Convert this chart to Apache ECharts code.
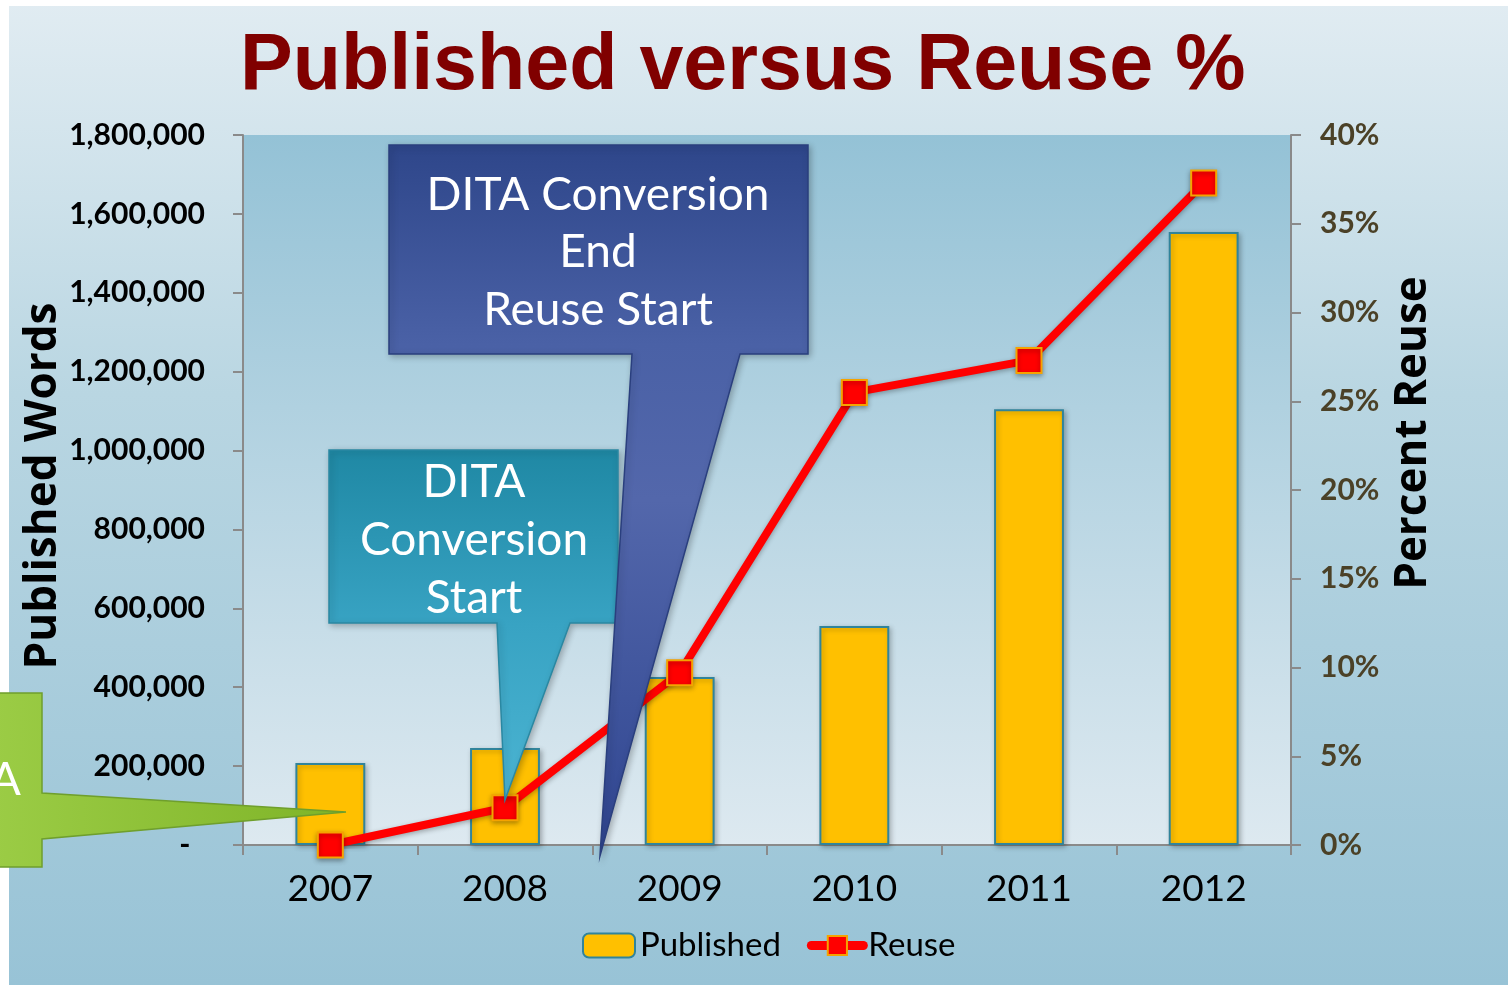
<!DOCTYPE html>
<html>
<head>
<meta charset="utf-8">
<script src="https://cdn.jsdelivr.net/npm/echarts@6/dist/echarts.min.js"></script>
<style>
html,body{margin:0;padding:0;background:#fff;}
#chart{width:1508px;height:985px;}
</style>
</head>
<body>
<div id="chart"></div>
<script>
// ---- data ----
var years = ['2007', '2008', '2009', '2010', '2011', '2012'];
var publishedWords = [208000, 246000, 426000, 555000, 1105000, 1554000];
var reusePercent = [0, 2.1, 9.7, 25.5, 27.3, 37.3];
var leftTicks = { min: 0, max: 1800000, interval: 200000 };
var rightTicks = { min: 0, max: 40, interval: 5 };
var titleText = 'Published versus Reuse %';
var leftAxisName = 'Published Words';
var rightAxisName = 'Percent Reuse';
var calloutEnd = ['DITA Conversion', 'End', 'Reuse Start'];
var calloutStart = ['DITA', 'Conversion', 'Start'];

var chart = echarts.init(document.getElementById('chart'), null, { renderer: 'canvas' });

function lin(x, y, x2, y2, stops) {
  return new echarts.graphic.LinearGradient(x, y, x2, y2, stops);
}

var option = {
  animation: false,
  backgroundColor: lin(0, 0, 0, 1, [
    { offset: 0, color: '#e1ecf2' },
    { offset: 0.4, color: '#b9d6e2' },
    { offset: 1, color: '#98c3d6' }
  ]),
  title: {
    text: titleText,
    left: 240,
    top: 28,
    padding: 0,
    textStyle: {
      fontFamily: 'Liberation Sans',
      fontWeight: 'bold',
      fontSize: 79,
      color: '#800000'
    }
  },
  legend: {
    left: 577,
    top: 924,
    itemWidth: 52,
    itemHeight: 24,
    itemGap: 26,
    textStyle: { fontFamily: 'Lato', fontSize: 33, color: '#000' },
    data: [
      { name: 'Published' },
      { name: 'Reuse', lineStyle: { width: 9, cap: 'round', color: '#ff0000' } }
    ]
  },
  grid: {
    left: 243,
    right: 217,
    top: 135,
    bottom: 140,
    show: true,
    borderWidth: 0,
    backgroundColor: lin(0, 0, 0, 1, [
      { offset: 0, color: '#94c2d6' },
      { offset: 1, color: '#dde9f0' }
    ])
  },
  xAxis: {
    type: 'category',
    data: years,
    axisLine: { lineStyle: { color: '#8a8a8a', width: 2 } },
    axisTick: { show: true, length: 10, lineStyle: { color: '#8a8a8a', width: 2 } },
    axisLabel: { margin: 26, fontFamily: 'Lato', fontSize: 37, color: '#000' }
  },
  yAxis: [
    {
      type: 'value',
      min: leftTicks.min,
      max: leftTicks.max,
      interval: leftTicks.interval,
      axisLine: { show: true, lineStyle: { color: '#8a8a8a', width: 2 } },
      axisTick: { show: true, length: 10, lineStyle: { color: '#8a8a8a', width: 2 } },
      splitLine: { show: false },
      axisLabel: {
        margin: 38,
        fontFamily: 'Lato',
        fontWeight: 'bold',
        fontSize: 30,
        color: '#000',
        formatter: function (v) {
          if (v === 0) return '-  ';
          return v.toString().replace(/\B(?=(\d{3})+(?!\d))/g, ',');
        }
      }
    },
    {
      type: 'value',
      position: 'right',
      min: rightTicks.min,
      max: rightTicks.max,
      interval: rightTicks.interval,
      axisLine: { show: true, lineStyle: { color: '#8a8a8a', width: 2 } },
      axisTick: { show: true, length: 10, lineStyle: { color: '#8a8a8a', width: 2 } },
      splitLine: { show: false },
      axisLabel: {
        margin: 29,
        fontFamily: 'Lato',
        fontWeight: 'bold',
        fontSize: 30,
        color: '#4b4127',
        formatter: '{value}%'
      }
    }
  ],
  series: [
    {
      name: 'Published',
      type: 'bar',
      data: publishedWords,
      barWidth: '40%',
      itemStyle: {
        color: '#ffc000',
        borderColor: '#31849b',
        borderWidth: 2,
        shadowBlur: 5,
        shadowColor: 'rgba(0,0,0,0.25)',
        shadowOffsetX: 2,
        shadowOffsetY: 2
      }
    },
    {
      name: 'Reuse',
      type: 'line',
      yAxisIndex: 1,
      data: reusePercent,
      symbol: 'rect',
      symbolSize: 25,
      lineStyle: {
        color: '#ff0000',
        width: 8,
        shadowBlur: 5,
        shadowColor: 'rgba(0,0,0,0.3)',
        shadowOffsetY: 2
      },
      itemStyle: {
        color: '#ff0000',
        borderColor: '#f5a300',
        borderWidth: 2,
        shadowBlur: 5,
        shadowColor: 'rgba(0,0,0,0.35)',
        shadowOffsetY: 2
      },
      z: 5
    }
  ],
  graphic: [
    { type: 'rect', shape: { x: 0, y: 0, width: 1508, height: 6 }, style: { fill: '#ffffff' }, z: 1 },
    { type: 'rect', shape: { x: 0, y: 0, width: 9, height: 985 }, style: { fill: '#ffffff' }, z: 1 },
    // axis names
    {
      type: 'text', z: 50, x: 43, y: 486, rotation: Math.PI / 2,
      style: { text: leftAxisName, fill: '#000', font: 'bold 44px "Open Sans"', textAlign: 'center', textVerticalAlign: 'middle' }
    },
    {
      type: 'text', z: 50, x: 1413, y: 433, rotation: Math.PI / 2,
      style: { text: rightAxisName, fill: '#000', font: 'bold 44px "Open Sans"', textAlign: 'center', textVerticalAlign: 'middle' }
    },
    // green callout
    {
      type: 'polygon', z: 100,
      shape: { points: [[-5, 693], [42, 693], [42, 793], [346, 812], [42, 839], [42, 867], [-5, 867]] },
      style: {
        fill: lin(0, 0, 1, 0, [
          { offset: 0, color: '#9bcc45' },
          { offset: 1, color: '#7fb428' }
        ]),
        stroke: '#6f9f2c', lineWidth: 1.5
      }
    },
    {
      type: 'text', z: 101, x: 21, y: 780,
      style: { text: 'A', fill: '#fff', font: '46px Lato', textAlign: 'right', textVerticalAlign: 'middle' }
    },
    // teal callout
    {
      type: 'polygon', z: 100,
      shape: { points: [[329, 450], [618, 450], [618, 623], [570, 623], [505, 800], [497, 623], [329, 623]] },
      style: {
        fill: lin(0, 0, 0, 1, [
          { offset: 0, color: '#1f88a4' },
          { offset: 0.5, color: '#38a3c3' },
          { offset: 1, color: '#4bb4d2' }
        ]),
        stroke: '#2a88a2', lineWidth: 1.5,
        shadowBlur: 6, shadowColor: 'rgba(0,0,0,0.25)', shadowOffsetX: 2, shadowOffsetY: 2
      }
    },
    {
      type: 'text', z: 101, x: 474, y: 482,
      style: { text: calloutStart[0], fill: '#fff', font: '46px Lato', textAlign: 'center', textVerticalAlign: 'middle' }
    },
    {
      type: 'text', z: 101, x: 474, y: 540,
      style: { text: calloutStart[1], fill: '#fff', font: '46px Lato', textAlign: 'center', textVerticalAlign: 'middle' }
    },
    {
      type: 'text', z: 101, x: 474, y: 598,
      style: { text: calloutStart[2], fill: '#fff', font: '46px Lato', textAlign: 'center', textVerticalAlign: 'middle' }
    },
    // dark blue callout
    {
      type: 'polygon', z: 100,
      shape: { points: [[389, 145], [808, 145], [808, 354], [740, 354], [600, 856], [632, 354], [389, 354]] },
      style: {
        fill: lin(0, 0, 0, 1, [
          { offset: 0, color: '#2e468a' },
          { offset: 0.28, color: '#4a61a6' },
          { offset: 0.5, color: '#5367ab' },
          { offset: 1, color: '#2f4590' }
        ]),
        stroke: '#2a3f7e', lineWidth: 1.5,
        shadowBlur: 6, shadowColor: 'rgba(0,0,0,0.25)', shadowOffsetX: 2, shadowOffsetY: 2
      }
    },
    {
      type: 'text', z: 101, x: 598, y: 195,
      style: { text: calloutEnd[0], fill: '#fff', font: '46px Lato', textAlign: 'center', textVerticalAlign: 'middle' }
    },
    {
      type: 'text', z: 101, x: 598, y: 252,
      style: { text: calloutEnd[1], fill: '#fff', font: '46px Lato', textAlign: 'center', textVerticalAlign: 'middle' }
    },
    {
      type: 'text', z: 101, x: 598, y: 310,
      style: { text: calloutEnd[2], fill: '#fff', font: '46px Lato', textAlign: 'center', textVerticalAlign: 'middle' }
    }
  ]
};

chart.setOption(option);
</script>
</body>
</html>
